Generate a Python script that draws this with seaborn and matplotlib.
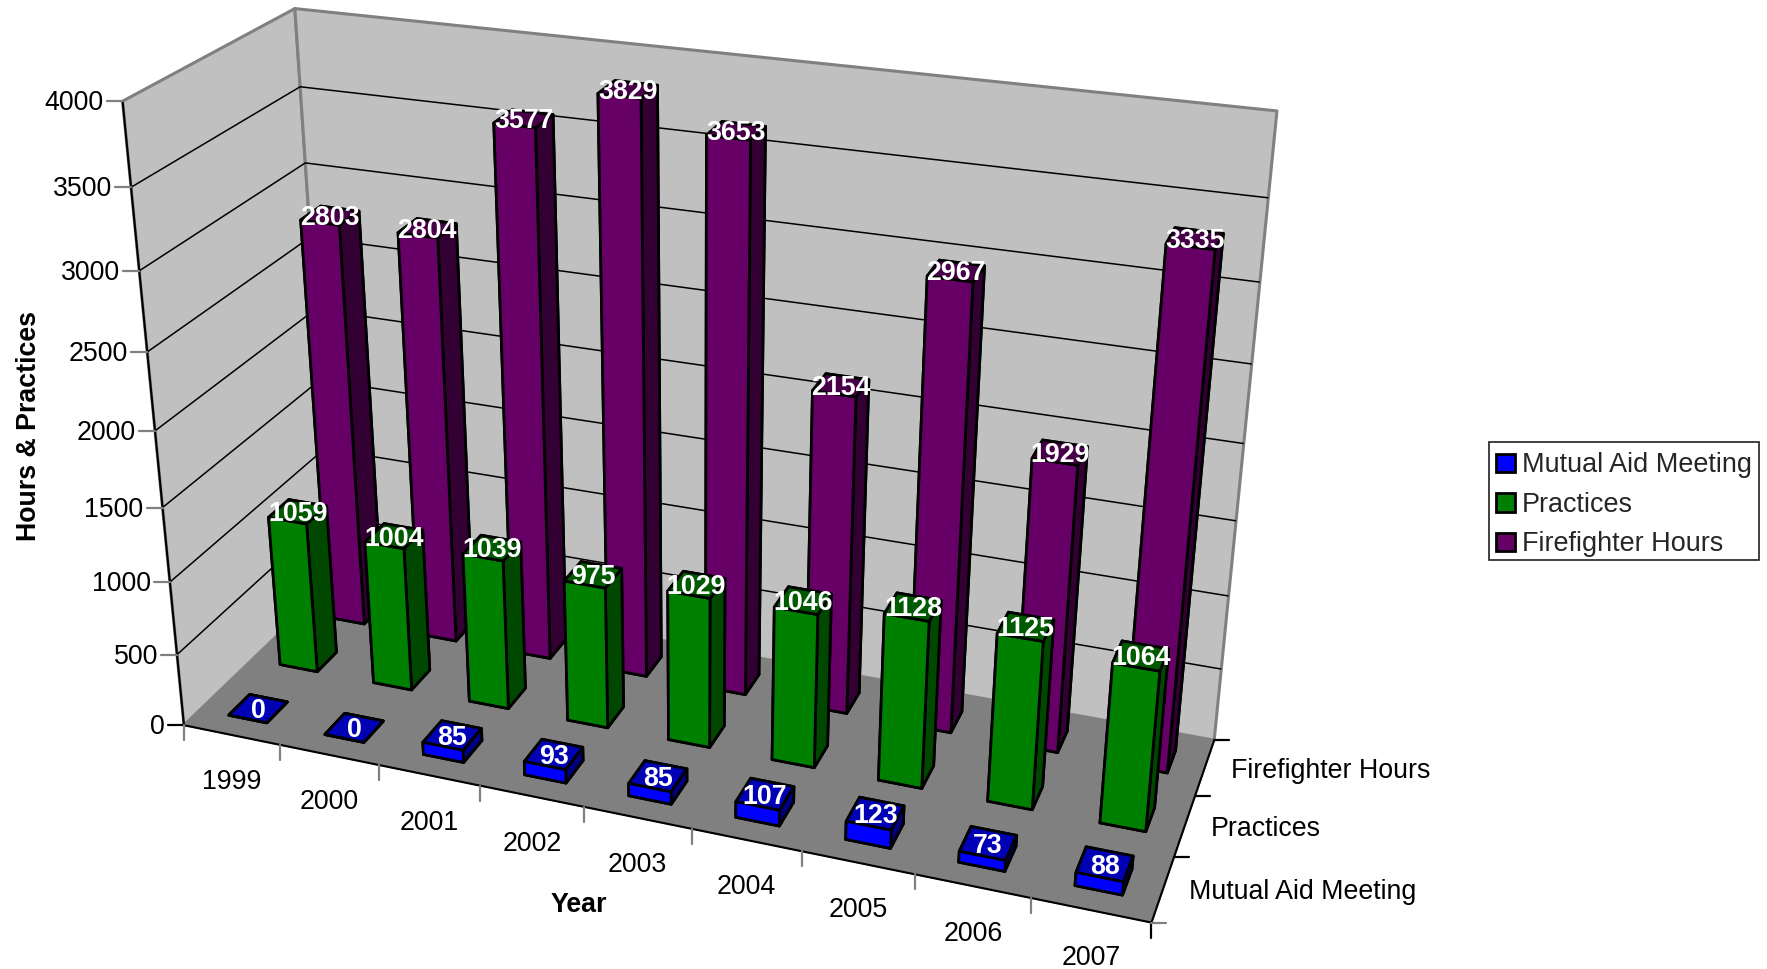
import numpy as np
import matplotlib
matplotlib.use("Agg")
import matplotlib.pyplot as plt
import seaborn as sns
from matplotlib.lines import Line2D
from matplotlib.patches import Patch, Rectangle
from mpl_toolkits.mplot3d.art3d import Poly3DCollection, Line3DCollection

years = ["1999", "2000", "2001", "2002", "2003", "2004", "2005", "2006", "2007"]
series = ["Mutual Aid Meeting", "Practices", "Firefighter Hours"]
mutual_aid = [0, 0, 85, 93, 85, 107, 123, 73, 88]
practices = [1059, 1004, 1039, 975, 1029, 1046, 1128, 1125, 1064]
firefighter = [2803, 2804, 3577, 3829, 3653, 2154, 2967, 1929, 3335]
value_ticks = [0, 500, 1000, 1500, 2000, 2500, 3000, 3500, 4000]

W, H = 1767, 969
sns.set_theme(style="white")
plt.rcParams["font.family"] = ["Liberation Sans", "DejaVu Sans"]
FS = 19.3

front = sns.color_palette(["#0000FF", "#008000", "#660066"])
top = sns.color_palette(["#0000B4", "#005A00", "#470047"])
side = sns.color_palette(["#000080", "#004800", "#330033"])

ZMAX = 4000.0
nx, ny = len(years), len(series)
# camera calibration: cube corners -> image position
world = np.array([[0, 0, 0], [nx, 0, 0], [nx, ny, 0], [0, 0, 1], [0, ny, 1], [nx, ny, 1]], float)
image = np.array([[184, 725.3], [1151.3, 922.7], [1214.3, 740], [122.7, 101], [294.7, 8.7], [1277, 111]], float)

rows = []
for (a, b, c), (u, v) in zip(world, image):
    rows.append([a, b, c, 1, 0, 0, 0, 0, -u * a, -u * b, -u * c, -u])
    rows.append([0, 0, 0, 0, a, b, c, 1, -v * a, -v * b, -v * c, -v])
_, _, vt = np.linalg.svd(np.array(rows))
P = vt[-1].reshape(3, 4)
if (P[2] @ [0, 0, 0, 1]) < 0:
    P = -P
P = P / P[2, 3]
P[:, 2] /= ZMAX  # value axis in data units


def pix(x, y, z):
    r = P @ np.array([x, y, z, 1.0])
    return r[0] / r[2], r[1] / r[2]


fig = plt.figure(figsize=(W / 100, H / 100), dpi=100, facecolor="white")
ax = fig.add_axes([0, 0, 1, 1], projection="3d", computed_zorder=False)
ax.apply_aspect = lambda position=None: None
ax.set_axis_off()
ax.set_xlim3d(0, nx)
ax.set_ylim3d(0, ny)
ax.set_zlim3d(0, ZMAX)


def get_proj():
    flip = np.array([[1, 0, 0], [0, -1, H], [0, 0, 1.0]])
    T = ax.transData.inverted().get_matrix()
    A = T @ flip @ P
    depth = 2 * P[2] - np.array([0, 0, 0, 1.0])
    return np.vstack([A[0], A[1], depth, A[2]])


ax.get_proj = get_proj

GREY = "#808080"
WALL = "#C0C0C0"
A3 = (0, 0, 0); B3 = (nx, 0, 0); C3 = (nx, ny, 0); D3 = (0, ny, 0)
E3 = (0, 0, ZMAX); F3 = (0, ny, ZMAX); G3 = (nx, ny, ZMAX)

ax.add_collection3d(Poly3DCollection([[A3, E3, F3, D3], [D3, F3, G3, C3]], facecolors=WALL,
                                     edgecolors=GREY, linewidths=2.2, zorder=1))
ax.add_collection3d(Poly3DCollection([[A3, B3, C3, D3]], facecolors=GREY, edgecolors=GREY,
                                     linewidths=0.5, zorder=2))
grid = []
for v in value_ticks[1:-1]:
    grid.append([(0, 0, v), (0, ny, v), (nx, ny, v)])
ax.add_collection3d(Line3DCollection(grid, colors="black", linewidths=1.1, zorder=3))
edges = [[A3, E3], [A3, B3], [B3, C3]]
ax.add_collection3d(Line3DCollection(edges, colors="black", linewidths=1.5, zorder=4))

BW = 0.40
BD = 0.40
zo = 10
for r, vals in reversed(list(enumerate([mutual_aid, practices, firefighter]))):
    for i, v in enumerate(vals):
        faces = [top[r], top[r], front[r], front[r], side[r], side[r]]
        ax.bar3d(i + 0.5 - BW / 2, r + 0.5 - BD / 2, 0, BW, BD, v, color=faces, shade=False,
                 edgecolor="black", linewidth=2, zorder=zo)
        zo += 1


# ticks and tick labels are offset in screen space from the axis edges
def seg(p, q, color="#808080"):
    fig.add_artist(Line2D([p[0] / W, q[0] / W], [1 - p[1] / H, 1 - q[1] / H], color=color, lw=1.6,
                          transform=fig.transFigure))


def label(x, y, s, **kw):
    kw.setdefault("color", "black")
    fig.text(x / W, 1 - y / H, s, fontsize=FS, **kw)


for r, vals in enumerate([mutual_aid, practices, firefighter]):
    for i, v in enumerate(vals):
        x, y = pix(i + 0.5, r + 0.5, v)
        label(x, y + 2.5, str(v), color="white", fontweight="bold", ha="center", va="center")

for v in value_ticks:
    x, y = pix(0, 0, v)
    seg((x - 16, y), (x, y), "black" if v == 0 else GREY)
    label(x - 19, y + 2, str(v), ha="right", va="center")
for i in range(nx + 1):
    x, y = pix(i, 0, 0)
    seg((x, y), (x, y + 15), "black" if i == nx else GREY)
for i, yr in enumerate(years):
    x, y = pix(i + 0.5, 0, 0)
    label(x, y + 47.5, yr, ha="center", va="center")
for j in range(ny + 1):
    x, y = pix(nx, j, 0)
    seg((x, y), (x + 15, y), GREY if j == 0 else "black")
for j, s in enumerate(series):
    x, y = pix(nx, j + 0.5, 0)
    label(x + 26, y + 3, s, ha="left", va="center")

label(28.5, 426, "Hours & Practices", rotation=90, ha="center", va="center", fontweight="bold")
label(578.5, 905, "Year", ha="center", va="center", fontweight="bold")

# legend frame is drawn apart so that the entries can sit slightly low inside it
fig.add_artist(Rectangle((1489.3 / W, 1 - 560 / H), 270 / W, 118 / H, facecolor="white", edgecolor="#202020",
                         linewidth=1.2, transform=fig.transFigure))
handles = [Patch(facecolor=c, edgecolor="black", linewidth=2) for c in front]
leg = fig.legend(handles, series, loc="upper left", bbox_to_anchor=(1489.3 / W, 1 - 445.4 / H),
                 bbox_transform=fig.transFigure, fontsize=19.45, frameon=False,
                 handlelength=0.68, handleheight=0.68,
                 handletextpad=0.26, labelspacing=0.5, borderpad=0.26, borderaxespad=0)
leg.set_zorder(10)

fig.savefig("out.png", dpi=100, facecolor="white")
